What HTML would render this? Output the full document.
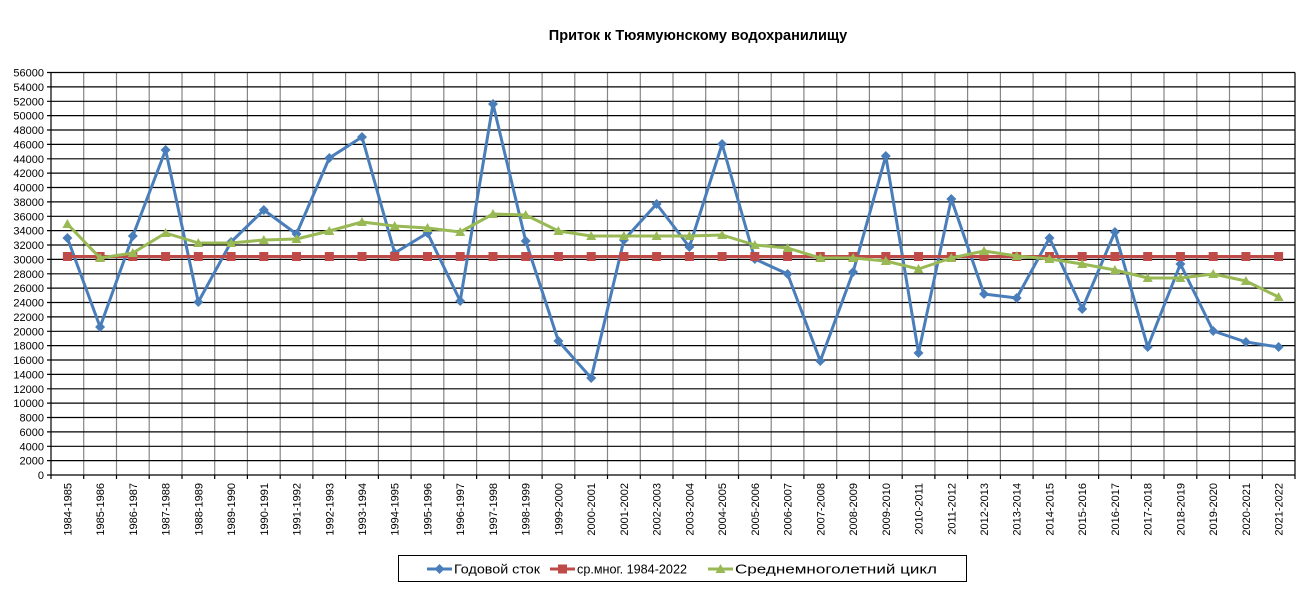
<!DOCTYPE html>
<html><head><meta charset="utf-8"><style>
body{margin:0;background:#fff;}
svg{display:block;font-family:"Liberation Sans",sans-serif;}
</style></head><body>
<svg width="1301" height="600" viewBox="0 0 1301 600" xmlns="http://www.w3.org/2000/svg">
<defs>
<marker id="dm" markerWidth="12" markerHeight="12" refX="6" refY="6" markerUnits="userSpaceOnUse"><path d="M6 1L11 6L6 11L1 6Z" fill="#4a7ebb"/></marker>
<marker id="sq" markerWidth="12" markerHeight="12" refX="6" refY="6" markerUnits="userSpaceOnUse"><rect x="1.5" y="1.5" width="9" height="9" fill="#be4b48"/></marker>
<marker id="tr" markerWidth="12" markerHeight="12" refX="6" refY="6" markerUnits="userSpaceOnUse"><path d="M6 1L11 10L1 10Z" fill="#98b954"/></marker>
</defs>
<rect width="1301" height="600" fill="#fff"/>
<text x="698" y="40" text-anchor="middle" font-size="14.5" font-weight="bold">Приток к Тюямуюнскому водохранилищу</text>
<g id="vg" stroke="#868686" stroke-width="1.2">
<path d="M83.7 72.5V475M116.5 72.5V475M149.2 72.5V475M182 72.5V475M214.7 72.5V475M247.4 72.5V475M280.2 72.5V475M312.9 72.5V475M345.6 72.5V475M378.4 72.5V475M411.1 72.5V475M443.8 72.5V475M476.6 72.5V475M509.3 72.5V475M542.1 72.5V475M574.8 72.5V475M607.5 72.5V475M640.3 72.5V475M673 72.5V475M705.7 72.5V475M738.5 72.5V475M771.2 72.5V475M803.9 72.5V475M836.7 72.5V475M869.4 72.5V475M902.2 72.5V475M934.9 72.5V475M967.6 72.5V475M1000.4 72.5V475M1033.1 72.5V475M1065.8 72.5V475M1098.6 72.5V475M1131.3 72.5V475M1164 72.5V475M1196.8 72.5V475M1229.5 72.5V475M1262.3 72.5V475"/>
</g>
<g stroke="#000" stroke-width="1.2">
<path d="M51 72.5H1295M51 86.9H1295M51 101.3H1295M51 115.6H1295M51 130H1295M51 144.4H1295M51 158.8H1295M51 173.1H1295M51 187.5H1295M51 201.9H1295M51 216.3H1295M51 230.6H1295M51 245H1295M51 259.4H1295M51 273.8H1295M51 288.1H1295M51 302.5H1295M51 316.9H1295M51 331.3H1295M51 345.6H1295M51 360H1295M51 374.4H1295M51 388.8H1295M51 403.1H1295M51 417.5H1295M51 431.9H1295M51 446.3H1295M51 460.6H1295M51 475H1295"/>
<path d="M51 72.5V475M1295 72.5V475"/>
<path d="M47 72.5H51M47 86.9H51M47 101.3H51M47 115.6H51M47 130H51M47 144.4H51M47 158.8H51M47 173.1H51M47 187.5H51M47 201.9H51M47 216.3H51M47 230.6H51M47 245H51M47 259.4H51M47 273.8H51M47 288.1H51M47 302.5H51M47 316.9H51M47 331.3H51M47 345.6H51M47 360H51M47 374.4H51M47 388.8H51M47 403.1H51M47 417.5H51M47 431.9H51M47 446.3H51M47 460.6H51M47 475H51"/>
<path d="M51 475V479M83.7 475V479M116.5 475V479M149.2 475V479M182 475V479M214.7 475V479M247.4 475V479M280.2 475V479M312.9 475V479M345.6 475V479M378.4 475V479M411.1 475V479M443.8 475V479M476.6 475V479M509.3 475V479M542.1 475V479M574.8 475V479M607.5 475V479M640.3 475V479M673 475V479M705.7 475V479M738.5 475V479M771.2 475V479M803.9 475V479M836.7 475V479M869.4 475V479M902.2 475V479M934.9 475V479M967.6 475V479M1000.4 475V479M1033.1 475V479M1065.8 475V479M1098.6 475V479M1131.3 475V479M1164 475V479M1196.8 475V479M1229.5 475V479M1262.3 475V479M1295 475V479"/>
</g>
<g font-size="11" text-anchor="end" fill="#000">
<text x="44" y="76.5">56000</text><text x="44" y="90.9">54000</text><text x="44" y="105.3">52000</text><text x="44" y="119.6">50000</text><text x="44" y="134">48000</text><text x="44" y="148.4">46000</text><text x="44" y="162.8">44000</text><text x="44" y="177.1">42000</text><text x="44" y="191.5">40000</text><text x="44" y="205.9">38000</text><text x="44" y="220.3">36000</text><text x="44" y="234.6">34000</text><text x="44" y="249">32000</text><text x="44" y="263.4">30000</text><text x="44" y="277.8">28000</text><text x="44" y="292.1">26000</text><text x="44" y="306.5">24000</text><text x="44" y="320.9">22000</text><text x="44" y="335.3">20000</text><text x="44" y="349.6">18000</text><text x="44" y="364">16000</text><text x="44" y="378.4">14000</text><text x="44" y="392.8">12000</text><text x="44" y="407.1">10000</text><text x="44" y="421.5">8000</text><text x="44" y="435.9">6000</text><text x="44" y="450.3">4000</text><text x="44" y="464.6">2000</text><text x="44" y="479">0</text>
</g>
<g font-size="11" text-anchor="end" fill="#000">
<text transform="translate(71.4,483) rotate(-90)">1984-1985</text>
<text transform="translate(104.1,483) rotate(-90)">1985-1986</text>
<text transform="translate(136.8,483) rotate(-90)">1986-1987</text>
<text transform="translate(169.6,483) rotate(-90)">1987-1988</text>
<text transform="translate(202.3,483) rotate(-90)">1988-1989</text>
<text transform="translate(235.1,483) rotate(-90)">1989-1990</text>
<text transform="translate(267.8,483) rotate(-90)">1990-1991</text>
<text transform="translate(300.5,483) rotate(-90)">1991-1992</text>
<text transform="translate(333.3,483) rotate(-90)">1992-1993</text>
<text transform="translate(366,483) rotate(-90)">1993-1994</text>
<text transform="translate(398.7,483) rotate(-90)">1994-1995</text>
<text transform="translate(431.5,483) rotate(-90)">1995-1996</text>
<text transform="translate(464.2,483) rotate(-90)">1996-1997</text>
<text transform="translate(497,483) rotate(-90)">1997-1998</text>
<text transform="translate(529.7,483) rotate(-90)">1998-1999</text>
<text transform="translate(562.4,483) rotate(-90)">1999-2000</text>
<text transform="translate(595.2,483) rotate(-90)">2000-2001</text>
<text transform="translate(627.9,483) rotate(-90)">2001-2002</text>
<text transform="translate(660.6,483) rotate(-90)">2002-2003</text>
<text transform="translate(693.4,483) rotate(-90)">2003-2004</text>
<text transform="translate(726.1,483) rotate(-90)">2004-2005</text>
<text transform="translate(758.8,483) rotate(-90)">2005-2006</text>
<text transform="translate(791.6,483) rotate(-90)">2006-2007</text>
<text transform="translate(824.3,483) rotate(-90)">2007-2008</text>
<text transform="translate(857.1,483) rotate(-90)">2008-2009</text>
<text transform="translate(889.8,483) rotate(-90)">2009-2010</text>
<text transform="translate(922.5,483) rotate(-90)">2010-2011</text>
<text transform="translate(955.3,483) rotate(-90)">2011-2012</text>
<text transform="translate(988,483) rotate(-90)">2012-2013</text>
<text transform="translate(1020.7,483) rotate(-90)">2013-2014</text>
<text transform="translate(1053.5,483) rotate(-90)">2014-2015</text>
<text transform="translate(1086.2,483) rotate(-90)">2015-2016</text>
<text transform="translate(1118.9,483) rotate(-90)">2016-2017</text>
<text transform="translate(1151.7,483) rotate(-90)">2017-2018</text>
<text transform="translate(1184.4,483) rotate(-90)">2018-2019</text>
<text transform="translate(1217.2,483) rotate(-90)">2019-2020</text>
<text transform="translate(1249.9,483) rotate(-90)">2020-2021</text>
<text transform="translate(1282.6,483) rotate(-90)">2021-2022</text>
</g>
<polyline fill="none" stroke="#4a7ebb" stroke-width="3" stroke-linejoin="round" marker-start="url(#dm)" marker-mid="url(#dm)" marker-end="url(#dm)"
points="67.4,238 100.1,327 132.8,236 165.6,150 198.3,302 231.1,242 263.8,210 296.5,234 329.3,158 362,137 394.7,253 427.5,233 460.2,301 493,104 525.7,241 558.4,341 591.2,378 623.9,240 656.6,204 689.4,247 722.1,144 754.8,259 787.6,274 820.3,361 853.1,272 885.8,156 918.5,353 951.3,199 984,294 1016.7,298 1049.5,238 1082.2,309 1114.9,232 1147.7,347 1180.4,264 1213.2,331 1245.9,342 1278.6,347"/>
<polyline fill="none" stroke="#be4b48" stroke-width="3" marker-start="url(#sq)" marker-mid="url(#sq)" marker-end="url(#sq)"
points="67.4,256.5 100.1,256.5 132.8,256.5 165.6,256.5 198.3,256.5 231.1,256.5 263.8,256.5 296.5,256.5 329.3,256.5 362,256.5 394.7,256.5 427.5,256.5 460.2,256.5 493,256.5 525.7,256.5 558.4,256.5 591.2,256.5 623.9,256.5 656.6,256.5 689.4,256.5 722.1,256.5 754.8,256.5 787.6,256.5 820.3,256.5 853.1,256.5 885.8,256.5 918.5,256.5 951.3,256.5 984,256.5 1016.7,256.5 1049.5,256.5 1082.2,256.5 1114.9,256.5 1147.7,256.5 1180.4,256.5 1213.2,256.5 1245.9,256.5 1278.6,256.5"/>
<polyline fill="none" stroke="#98b954" stroke-width="3" stroke-linejoin="round" marker-start="url(#tr)" marker-mid="url(#tr)" marker-end="url(#tr)"
points="67.4,224 100.1,258 132.8,253 165.6,233 198.3,243 231.1,243 263.8,240 296.5,239 329.3,231 362,222 394.7,226 427.5,228 460.2,232 493,214 525.7,215 558.4,231 591.2,236 623.9,236 656.6,236 689.4,236 722.1,235 754.8,245 787.6,248 820.3,258 853.1,258 885.8,261 918.5,269 951.3,258 984,251 1016.7,256 1049.5,259 1082.2,264 1114.9,270 1147.7,278 1180.4,278 1213.2,274 1245.9,281 1278.6,297"/>
<rect x="398.5" y="555.5" width="568" height="26" fill="#fff" stroke="#000" stroke-width="1"/>
<g font-size="13" fill="#000">
<line x1="427" y1="569" x2="452" y2="569" stroke="#4a7ebb" stroke-width="3"/><path d="M439.5 564L444.5 569L439.5 574L434.5 569Z" fill="#4a7ebb"/>
<text x="454" y="573.5" textLength="86" lengthAdjust="spacingAndGlyphs">Годовой  сток</text>
<line x1="550" y1="569" x2="575" y2="569" stroke="#be4b48" stroke-width="3"/><rect x="558" y="564.5" width="9" height="9" fill="#be4b48"/>
<text x="577" y="573.5" textLength="110" lengthAdjust="spacingAndGlyphs">ср.мног. 1984-2022</text>
<line x1="708" y1="569" x2="733" y2="569" stroke="#98b954" stroke-width="3"/><path d="M720.5 564L725.5 573L715.5 573Z" fill="#98b954"/>
<text x="735" y="573.5" textLength="202" lengthAdjust="spacingAndGlyphs">Среднемноголетний  цикл</text>
</g>
</svg>
</body></html>
